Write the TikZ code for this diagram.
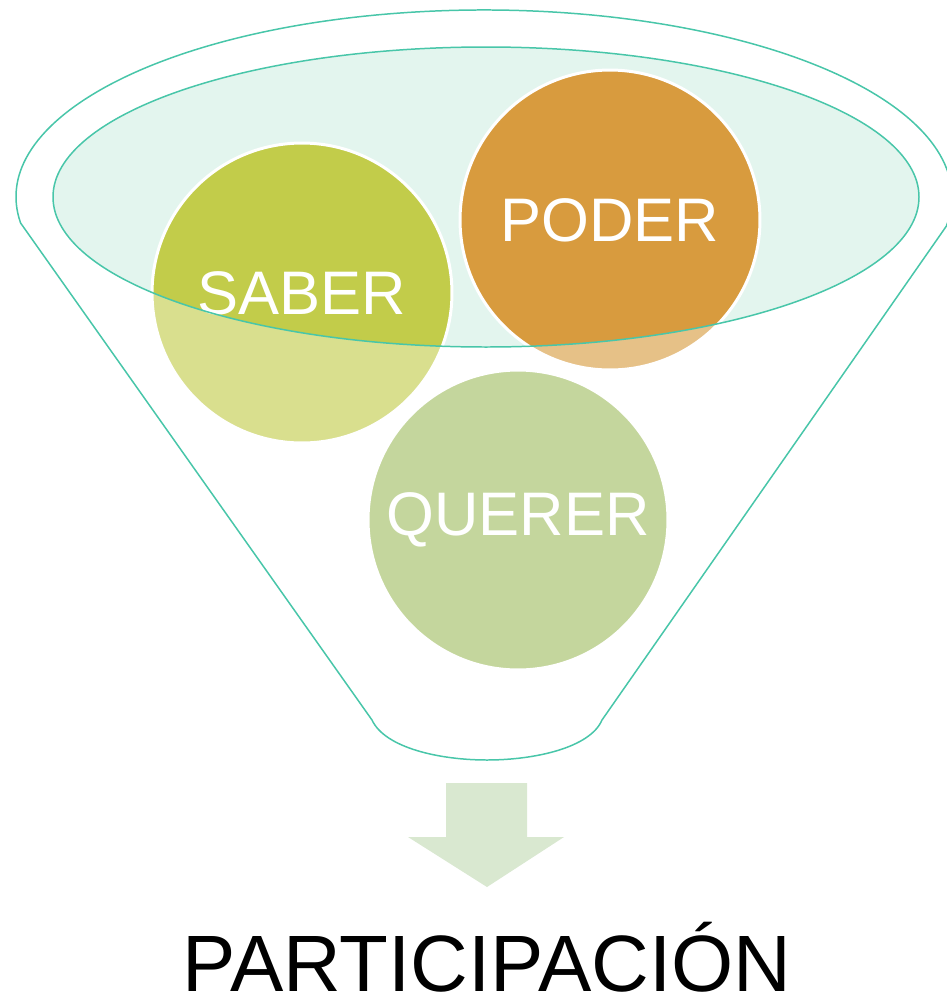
\documentclass[tikz,border=0pt]{standalone}
\usepackage{fontspec}
\setmainfont{Liberation Sans}
\definecolor{tealline}{HTML}{48C6A9}
\definecolor{rimfill}{HTML}{E3F5EE}
\definecolor{sabercol}{HTML}{C2CC4A}
\definecolor{podercol}{HTML}{D89B3E}
\definecolor{querercol}{HTML}{A1BE61}
\definecolor{arrowcol}{HTML}{D9E8D0}
\begin{document}
\begin{tikzpicture}[x=0.02cm,y=-0.02cm,
  ball/.style={circle, draw=white, line width=1.7pt, minimum size=6cm, inner sep=0pt,
    text=white, font=\fontsize{35}{40}\selectfont},
  funnelline/.style={draw=tealline, line width=0.85pt}]
\useasboundingbox (0,0) rectangle (947,998);
% inner rim fill
\fill[rimfill] (486,197) ellipse [x radius=433, y radius=150];
% circles
\node[ball, fill=sabercol] (saber) at (302,293) {SABER};
\node[ball, fill=podercol] (poder) at (610,220) {PODER};
\node[ball, fill=querercol] (querer) at (518,520) {QUERER};
% white veil outside the rim
\fill[white, fill opacity=0.38, even odd rule] (0,0) rectangle (947,998)
  (486,197) ellipse [x radius=433, y radius=150];
% outlines
\draw[funnelline] (486,197) ellipse [x radius=433, y radius=150];
\begin{scope}
\clip (0,0) rectangle (947,998);
\draw[funnelline, line join=round]
  (372,720) -- (20.6,223)
  arc[start angle=172, end angle=369, x radius=468, y radius=187]
  -- (602,720)
  .. controls (590,748) and (534,760) .. (487,760)
  .. controls (440,760) and (385,748) .. (372,720);
\end{scope}
% arrow
\fill[arrowcol] (446,783) -- (527,783) -- (527,837) -- (564,837) -- (487,887)
  -- (408,837) -- (446,837) -- cycle;
\node[anchor=base, font=\fontsize{45.5}{50}\selectfont, text=black, inner sep=0pt]
  (title) at (487,991) {PARTICIPACIÓN};
\end{tikzpicture}
\end{document}
